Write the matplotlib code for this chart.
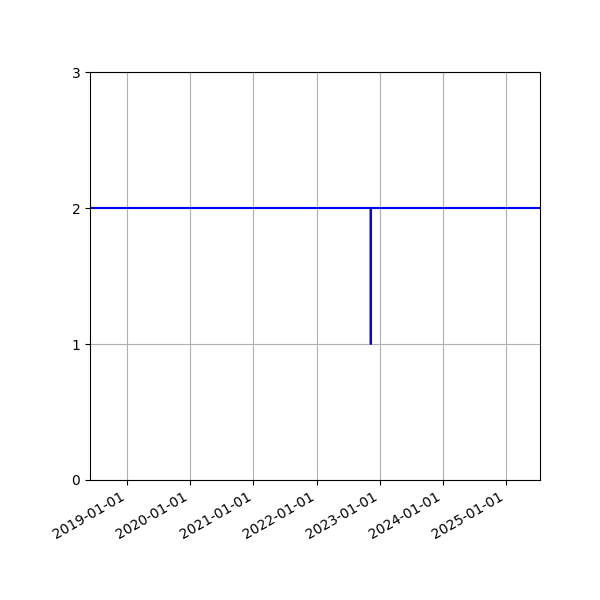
import matplotlib
matplotlib.use('Agg')
import matplotlib.pyplot as plt
import matplotlib.dates as mdates
import numpy as np

dates = np.array(['2018-06-01', '2022-11-09', '2022-11-10', '2022-11-11', '2025-07-15'],
                 dtype='datetime64[D]')
values = [2, 2, 1, 2, 2]

fig = plt.figure(figsize=(6, 6), dpi=100)
ax = fig.add_subplot(1, 1, 1)
ax.plot(dates, values, 'b-')
ax.set_xlim(dates[0], dates[-1])
ax.set_ylim(0, 3)
ax.set_yticks([0, 1, 2, 3])
ax.xaxis.set_major_locator(mdates.YearLocator())
ax.xaxis.set_major_formatter(mdates.DateFormatter('%Y-%m-%d'))
ax.grid()
fig.autofmt_xdate()
fig.subplots_adjust(left=0.15)

plt.savefig('out.png')
